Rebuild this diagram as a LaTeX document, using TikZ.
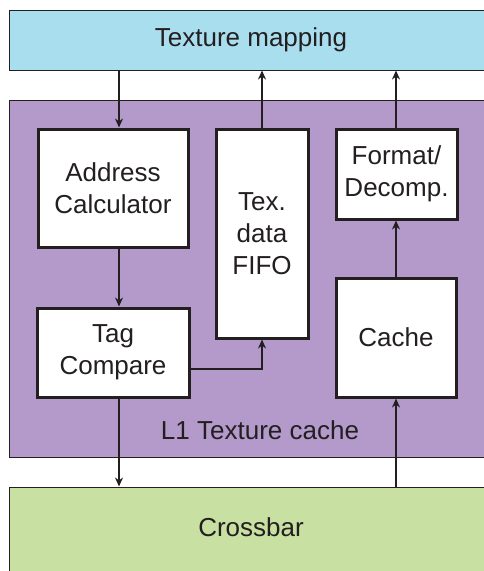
\documentclass[tikz,border=0pt]{standalone}
\usepackage{fontspec}
\setmainfont{Liberation Sans}
\usetikzlibrary{arrows.meta}
\definecolor{tmblue}{HTML}{A9DEEF}
\definecolor{l1purple}{HTML}{B49ACA}
\definecolor{xbgreen}{HTML}{C8E0A1}
\definecolor{ink}{HTML}{231F20}
\begin{document}
\begin{tikzpicture}[x=1pt,y=-1pt,
  lbl/.style={font=\fontsize{26}{32}\selectfont, text=ink, align=center},
  bar/.style={draw=ink, line width=1pt, minimum width=500pt},
  unit/.style={draw=ink, fill=white, line width=3pt, lbl, inner sep=0pt},
  arr/.style={draw=ink, line width=2.5pt, -{Stealth[length=9pt,width=8pt]}},
  wire/.style={draw=ink, line width=2.5pt}]
\useasboundingbox (0,0) rectangle (484,571);
\fill[white] (0,0) rectangle (484,571);
% regions
\node[bar, fill=tmblue, minimum height=60pt] (texmap) at (259,40) {};
\node[lbl] (tmtext) at (251,40) {Texture mapping};
\node[bar, fill=l1purple, minimum height=357pt] (l1) at (259,278.5) {};
\node[lbl] (l1text) at (260,430) {L1 Texture cache};
\node[bar, fill=xbgreen, minimum height=90pt] (xbar) at (259,532) {};
\node[lbl] (xbtext) at (251,527) {Crossbar};
% units
\node[unit, minimum width=150pt, minimum height=118pt] (addr) at (113,188) {Address\\Calculator};
\node[unit, minimum width=152pt, minimum height=89pt] (tag) at (113,352.5) {Tag\\Compare};
\node[unit, minimum width=92pt, minimum height=209pt] (fifo) at (262,233.5) {Tex.\\data\\FIFO};
\node[unit, minimum width=121pt, minimum height=90pt] (fmt) at (396.5,174) {Format/\\Decomp.};
\node[unit, minimum width=120pt, minimum height=119pt] (cache) at (396,337.5) {Cache};
% guide coordinates
\coordinate (ax) at (119,0);
\coordinate (fx) at (262,0);
\coordinate (cx) at (396,0);
\coordinate (ty) at (0,369);
% connectors
\draw[arr] (texmap.south -| ax) -- (addr.north -| ax);
\draw[arr] (addr.south -| ax) -- (tag.north -| ax);
\draw[arr] (tag.south -| ax) -- (xbar.north -| ax);
\draw[arr] (tag.east |- ty) -| (fifo.south -| fx);
\draw[arr] (fifo.north -| fx) -- (texmap.south -| fx);
\draw[arr] (xbar.north -| cx) -- (cache.south -| cx);
\draw[arr] (cache.north -| cx) -- (fmt.south -| cx);
\draw[arr] (fmt.north -| cx) -- (texmap.south -| cx);
\end{tikzpicture}
\end{document}
